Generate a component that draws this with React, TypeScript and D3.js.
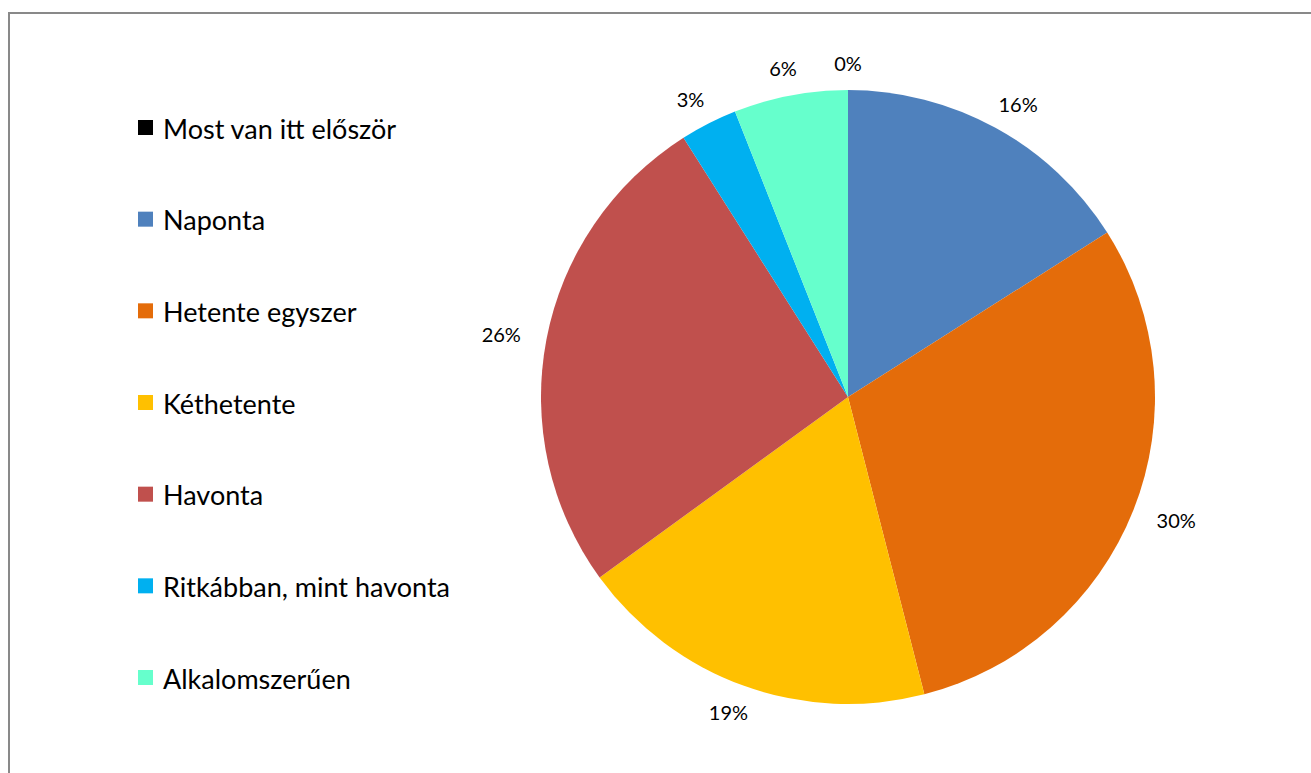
import React from "react";
import * as d3 from "d3";

const categories = [
  "Most van itt először",
  "Naponta",
  "Hetente egyszer",
  "Kéthetente",
  "Havonta",
  "Ritkábban, mint havonta",
  "Alkalomszerűen",
];
const values = [0, 16, 30, 19, 26, 3, 6];
const colors = ["#000000", "#4F81BD", "#E46C0A", "#FFC000", "#C0504D", "#00B0F0", "#66FFCC"];

const W = 1311;
const H = 773;
const cx = 848;
const cy = 397;
const R = 307;
const FONT = "Lato, 'Open Sans', sans-serif";

export default function App() {
  const pie = d3.pie<number>().value((d) => d).sort(null);
  const arcs = pie(values);
  const arcGen = d3.arc<d3.PieArcDatum<number>>().innerRadius(0).outerRadius(R);
  const total = d3.sum(values);
  const fmt = (v: number) => `${Math.round((v / total) * 100)}%`;

  const legendY = d3.scalePoint<string>().domain(categories).range([128, 678]);

  const labelFont = 20;
  return (
    <svg
      width={W}
      height={H}
      style={{ position: "absolute", left: 0, top: 0, display: "block", background: "#fff" }}
    >
      <rect x={9} y={13} width={1330} height={800} fill="#fff" stroke="#898989" strokeWidth={2} />
      <g transform={`translate(${cx},${cy})`}>
        {arcs.map((a, i) => (
          <path key={i} d={arcGen(a) || ""} fill={colors[i]} />
        ))}
        {arcs.map((a, i) => {
          const mid = (a.startAngle + a.endAngle) / 2;
          const txt = fmt(a.data);
          const w = txt.length * labelFont * 0.6;
          const h = labelFont * 1.1;
          const x = Math.sin(mid) * (R + 28 + w / 2);
          const y = -Math.cos(mid) * (R + 22 + h / 4);
          return (
            <text
              key={"l" + i}
              x={x}
              y={y}
              textAnchor="middle"
              dominantBaseline="central"
              fontFamily={FONT}
              fontSize={labelFont}
              fontWeight={400}
              fill="#000"
            >
              {txt}
            </text>
          );
        })}
      </g>
      <g>
        {categories.map((c, i) => {
          const y = legendY(c) as number;
          return (
            <g key={c}>
              <rect x={138} y={y - 8} width={15} height={15} fill={colors[i]} />
              <text
                x={163}
                y={y}
                dominantBaseline="central"
                fontFamily={FONT}
                fontSize={27}
                fontWeight={400}
                fill="#000"
              >
                {c}
              </text>
            </g>
          );
        })}
      </g>
    </svg>
  );
}
